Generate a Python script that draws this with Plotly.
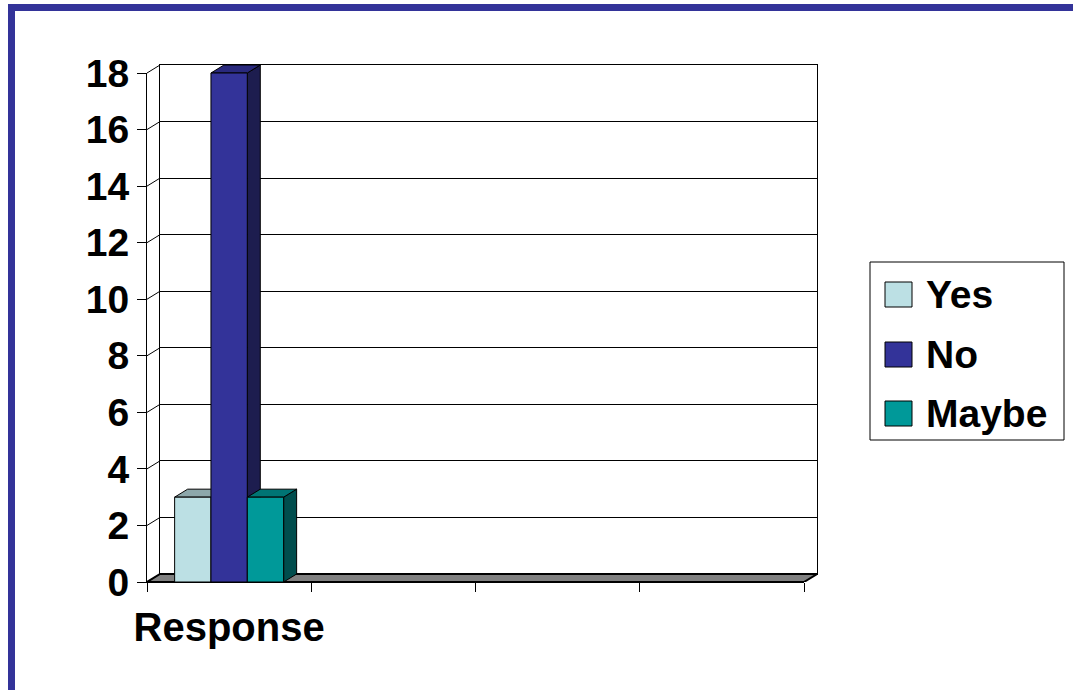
import plotly.graph_objects as go

# ---------------- data ----------------
categories = ["Response", "", "", ""]
series_names = ["Yes", "No", "Maybe"]
yes_values = [3, None, None, None]
no_values = [18, None, None, None]
maybe_values = [3, None, None, None]
y_ticks = [0, 2, 4, 6, 8, 10, 12, 14, 16, 18]

# ---------------- styles ----------------
front_colors = ["#BCE0E4", "#333399", "#009999"]
top_colors = ["#8DA8AB", "#29297D", "#007474"]
side_colors = ["#5E7275", "#1D1D4F", "#004D4D"]
FONT = "Liberation Sans, Arial, sans-serif"

W, H = 1073, 690
ML, MR, MT, MB = 147, 256, 65, 108
PW, PH = W - ML - MR, H - MT - MB
DX, DY = 13, 8                 # 3-D depth offset in pixels
FW, FH = PW - DX, PH - DY      # front plane size in pixels
YMAX = 18
NCAT = len(categories)
xs = FW / NCAT                 # px per category unit
ys = FH / YMAX                 # px per value unit
dxu, dyu = DX / xs, DY / ys    # depth offset in data units
GROUP = 109 / xs               # width of a bar group in category units
BW = GROUP / 3


def paper_x(px):
    return (px - ML) / PW


def paper_y(py):
    return (H - MB - py) / PH


fig = go.Figure()

# empty traces so the back-wall and front-axes subplots are created
fig.add_trace(go.Scatter(x=[], y=[], xaxis="x", yaxis="y", showlegend=False))
fig.add_trace(go.Scatter(x=[], y=[], xaxis="x2", yaxis="y2", showlegend=False))

shapes = []
# floor
shapes.append(dict(type="path", xref="x3", yref="y3", layer="between",
                   path=f"M0,0 L{NCAT},0 L{NCAT + dxu},{dyu} L{dxu},{dyu} Z",
                   fillcolor="#808080", line=dict(color="black", width=2)))
# diagonal connectors from front ticks to back wall
for v in y_ticks:
    shapes.append(dict(type="line", xref="x3", yref="y3", layer="between",
                       x0=0, y0=v, x1=dxu, y1=v + dyu,
                       line=dict(color="black", width=1)))

all_series = [yes_values, no_values, maybe_values]
for k, (name, vals) in enumerate(zip(series_names, all_series)):
    offset = -GROUP / 2 + k * BW
    xpos = [i + 0.5 for i in range(NCAT)]
    fig.add_trace(go.Bar(
        x=xpos, y=vals, name=name, width=BW, offset=offset,
        xaxis="x3", yaxis="y3",
        marker=dict(color=front_colors[k], line=dict(color="black", width=1)),
        showlegend=False,
    ))
    for i, v in enumerate(vals):
        if v is None:
            continue
        x0 = xpos[i] + offset
        x1 = x0 + BW
        shapes.append(dict(type="path", xref="x3", yref="y3", layer="between",
                           path=f"M{x1},0 L{x1},{v} L{x1 + dxu},{v + dyu} L{x1 + dxu},{dyu} Z",
                           fillcolor=side_colors[k], line=dict(color="black", width=1)))
        shapes.append(dict(type="path", xref="x3", yref="y3", layer="between",
                           path=f"M{x0},{v} L{x1},{v} L{x1 + dxu},{v + dyu} L{x0 + dxu},{v + dyu} Z",
                           fillcolor=top_colors[k], line=dict(color="black", width=1)))

# slide frame
shapes.append(dict(type="rect", xref="paper", yref="paper",
                   x0=paper_x(11.5), y0=paper_y(7.5), x1=paper_x(1120), y1=paper_y(740),
                   line=dict(color="#333399", width=7), fillcolor="rgba(0,0,0,0)"))

# custom legend
annotations = []
shapes.append(dict(type="rect", xref="paper", yref="paper",
                   x0=paper_x(870), y0=paper_y(262), x1=paper_x(1064), y1=paper_y(440),
                   line=dict(color="black", width=1), fillcolor="white"))
row_centers = [294.5, 354.5, 413.5]
for k, name in enumerate(series_names):
    cy = row_centers[k]
    shapes.append(dict(type="rect", xref="paper", yref="paper",
                       x0=paper_x(885), y0=paper_y(cy - 12.5), x1=paper_x(912), y1=paper_y(cy + 12.5),
                       line=dict(color="black", width=1), fillcolor=front_colors[k]))
    annotations.append(dict(xref="paper", yref="paper", x=paper_x(924), y=paper_y(cy),
                            xanchor="left", yanchor="middle", text=name, showarrow=False,
                            font=dict(family=FONT, size=39, color="black", weight="bold")))

ytickfont = dict(family=FONT, size=39, color="black", weight="bold")
xtickfont = dict(family=FONT, size=40, color="black", weight="bold")

fig.update_layout(
    width=W, height=H,
    margin=dict(l=ML, r=MR, t=MT, b=MB, pad=0),
    paper_bgcolor="white", plot_bgcolor="rgba(0,0,0,0)",
    showlegend=False, barmode="overlay",
    shapes=shapes, annotations=annotations,
    # back wall
    xaxis=dict(domain=[DX / PW, 1], range=[0, NCAT], anchor="y",
               showline=True, mirror=True, linecolor="black", linewidth=1,
               showgrid=False, zeroline=False, showticklabels=False, ticks=""),
    yaxis=dict(domain=[DY / PH, 1], range=[0, YMAX], anchor="x",
               showline=True, mirror=True, linecolor="black", linewidth=1,
               showgrid=True, gridcolor="black", gridwidth=1,
               tickmode="array", tickvals=y_ticks,
               zeroline=False, showticklabels=False, ticks=""),
    # front axes
    xaxis2=dict(domain=[0, FW / PW], range=[0, NCAT], anchor="y2",
                showline=True, linecolor="black", linewidth=1,
                showgrid=False, zeroline=False,
                tickmode="array", tickvals=[i + 0.5 for i in range(NCAT)],
                ticktext=categories, ticks="", tickfont=xtickfont,
                ticklabelstandoff=10,
                minor=dict(tickmode="array", tickvals=list(range(NCAT + 1)),
                           ticks="outside", ticklen=9, tickcolor="black",
                           tickwidth=1, showgrid=False)),
    yaxis2=dict(domain=[0, FH / PH], range=[0, YMAX], anchor="x2",
                showline=True, linecolor="black", linewidth=1,
                showgrid=False, zeroline=False,
                tickmode="array", tickvals=y_ticks,
                ticks="outside", ticklen=9, tickcolor="black", tickwidth=1,
                tickfont=ytickfont),
    # bar layer (same scale as front axes, extended to hold the depth)
    xaxis3=dict(domain=[0, 1], range=[0, NCAT * PW / FW], anchor="y3", visible=False),
    yaxis3=dict(domain=[0, 1], range=[0, YMAX * PH / FH], anchor="x3", visible=False),
)

fig.write_html("out.html", config={"displayModeBar": False})
